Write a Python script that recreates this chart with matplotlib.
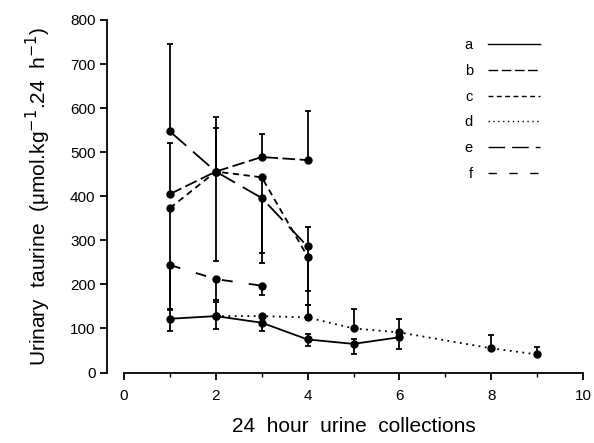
import numpy as np
import matplotlib.pyplot as plt

plt.rcParams['font.family'] = ['Liberation Sans', 'DejaVu Sans']

# group a (solid)
x_a = [1, 2, 3, 4, 5, 6]
a = [122, 128, 113, 75, 65, 80]
a_lo = [27, 29, 19, 15, 24, 27]
a_hi = [20, 32, 15, 12, 12, 10]

# group b
x_b = [1, 2, 3, 4]
b = [405, 456, 489, 482]
b_lo = [0, 0, 0, 0]
b_hi = [115, 100, 52, 112]

# group c
x_c = [1, 2, 3, 4]
c = [373, 456, 443, 263]
c_lo = [229, 203, 195, 110]
c_hi = [0, 0, 0, 0]

# group d (dotted)
x_d = [2, 3, 4, 5, 6, 8, 9]
d = [128, 128, 125, 100, 91, 55, 41]
d_lo = [0, 0, 0, 0, 0, 0, 0]
d_hi = [0, 0, 28, 44, 30, 30, 16]

# group e
x_e = [1, 2, 3, 4]
e = [547, 456, 396, 286]
e_lo = [0, 0, 125, 102]
e_hi = [199, 124, 0, 45]

# group f
x_f = [1, 2, 3]
f = [244, 212, 197]
f_lo = [100, 47, 21]
f_hi = [0, 0, 0]

series = [
    ('a', x_a, a, a_lo, a_hi, '-'),
    ('b', x_b, b, b_lo, b_hi, (0, (7, 2.5))),
    ('c', x_c, c, c_lo, c_hi, (0, (3.5, 2.5))),
    ('d', x_d, d, d_lo, d_hi, (0, (1, 2.5))),
    ('e', x_e, e, e_lo, e_hi, (0, (12, 5))),
    ('f', x_f, f, f_lo, f_hi, (0, (6, 9))),
]

fig = plt.figure(figsize=(5.94, 4.43), dpi=100)
ax = fig.add_axes([0.2088, 0.1591, 0.7727, 0.7958])

handles = []
for name, xs, ys, lo, hi, ls in series:
    ax.errorbar(xs, ys, yerr=[lo, hi], fmt='none', ecolor='black',
                elinewidth=1.3, capsize=2.5, capthick=1.3)
    ax.plot(xs, ys, color='black', linestyle=ls, linewidth=1.3,
            marker='o', markersize=5)
    h, = ax.plot([], [], color='black', linestyle=ls, linewidth=1.0)
    handles.append(h)

ax.legend(handles, [s[0] for s in series], loc='upper right',
          bbox_to_anchor=(0.935, 0.985), frameon=False, markerfirst=False,
          handlelength=3.6, labelspacing=0.8, fontsize=10.5, handletextpad=1.0)

ax.set_xlim(0, 10)
ax.set_ylim(0, 800)
ax.set_xticks([0, 2, 4, 6, 8, 10])
ax.set_xticks([1, 3, 5, 7, 9], minor=True)
ax.set_yticks(range(0, 801, 100))

for s in ['top', 'right']:
    ax.spines[s].set_visible(False)
ax.spines['left'].set_position(('outward', 12))
ax.spines['left'].set_linewidth(1.3)
ax.spines['bottom'].set_linewidth(1.3)
ax.tick_params(direction='out', length=5, width=1.3, labelsize=11)
ax.tick_params(axis='x', which='minor', direction='out', length=3, width=1)
ax.tick_params(axis='x', pad=7)

ax.set_xlabel('24  hour  urine  collections', fontsize=15, labelpad=10)
ax.set_ylabel('Urinary  taurine  (μmol.kg$^{-1}$.24  h$^{-1}$)', fontsize=15,
              labelpad=12)

fig.savefig('out.png', dpi=100)
